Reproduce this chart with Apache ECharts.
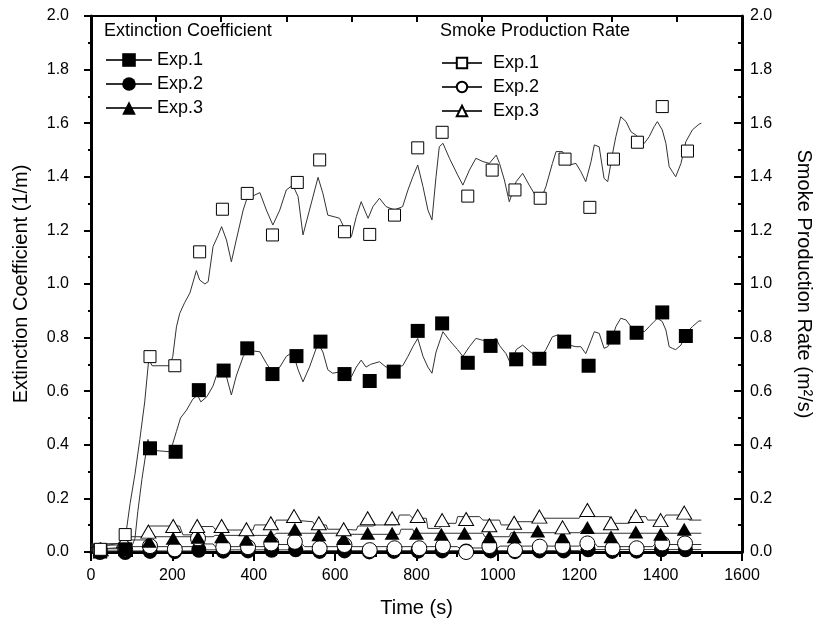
<!DOCTYPE html>
<html>
<head>
<meta charset="utf-8">
<script src="https://cdn.jsdelivr.net/npm/echarts@6/dist/echarts.min.js"></script>
<style>
  html, body { margin: 0; padding: 0; background: #fff; }
  #chart { width: 822px; height: 632px; }
</style>
</head>
<body>
<div id="chart"></div>
<script>
// time (s) vs value
// smoke production rate, Exp.1 (m2/s) - continuous record
var spr1Line = [[0, 0.02], [20, 0.02], [40, 0.025], [60, 0.03], [80, 0.035], [86, 0.07], [96, 0.18], [108, 0.29], [120, 0.42], [132, 0.56], [142, 0.72], [150, 0.695], [194, 0.695], [201, 0.73], [210, 0.84], [218, 0.89], [230, 0.93], [243, 0.966], [259, 1.05], [267, 1.015], [280, 1.0], [288, 1.009], [300, 1.14], [312, 1.18], [321, 1.214], [333, 1.164], [345, 1.083], [357, 1.164], [374, 1.276], [382, 1.313], [400, 1.33], [415, 1.341], [431, 1.276], [447, 1.22], [464, 1.276], [480, 1.351], [496, 1.369], [509, 1.326], [521, 1.183], [537, 1.276], [558, 1.398], [570, 1.338], [582, 1.257], [600, 1.25], [611, 1.245], [627, 1.195], [640, 1.177], [652, 1.251], [664, 1.307], [681, 1.245], [693, 1.289], [709, 1.32], [725, 1.289], [746, 1.276], [766, 1.289], [779, 1.351], [791, 1.40], [803, 1.444], [816, 1.363], [828, 1.276], [838, 1.239], [848, 1.40], [856, 1.512], [865, 1.525], [881, 1.469], [901, 1.407], [914, 1.369], [930, 1.425], [946, 1.469], [963, 1.457], [979, 1.45], [996, 1.481], [1004, 1.45], [1016, 1.388], [1028, 1.307], [1045, 1.382], [1061, 1.413], [1077, 1.369], [1094, 1.326], [1102, 1.301], [1118, 1.363], [1134, 1.45], [1143, 1.494], [1159, 1.494], [1175, 1.444], [1192, 1.45], [1204, 1.419], [1216, 1.382], [1229, 1.457], [1237, 1.519], [1249, 1.512], [1261, 1.394], [1270, 1.382], [1282, 1.488], [1290, 1.55], [1302, 1.624], [1315, 1.606], [1327, 1.568], [1339, 1.556], [1360, 1.525], [1372, 1.55], [1384, 1.587], [1392, 1.606], [1404, 1.575], [1413, 1.525], [1421, 1.438], [1429, 1.419], [1437, 1.40], [1450, 1.45], [1462, 1.531], [1478, 1.575], [1494, 1.596], [1500, 1.60]]
// extinction coefficient, Exp.1 (1/m)
var ec1Line = [[0, 0.01], [60, 0.015], [100, 0.02], [108, 0.05], [115, 0.15], [125, 0.27], [135, 0.37], [140, 0.42], [148, 0.38], [194, 0.374], [200, 0.40], [210, 0.45], [220, 0.50], [235, 0.53], [250, 0.57], [262, 0.585], [270, 0.56], [285, 0.58], [300, 0.62], [308, 0.657], [321, 0.68], [333, 0.654], [345, 0.586], [357, 0.657], [374, 0.729], [382, 0.746], [400, 0.75], [415, 0.747], [431, 0.704], [447, 0.667], [464, 0.69], [480, 0.73], [496, 0.746], [509, 0.68], [521, 0.635], [537, 0.69], [558, 0.779], [570, 0.746], [582, 0.68], [594, 0.667], [611, 0.672], [627, 0.68], [640, 0.654], [652, 0.69], [664, 0.716], [676, 0.69], [687, 0.70], [709, 0.71], [725, 0.69], [746, 0.69], [766, 0.695], [779, 0.73], [791, 0.766], [803, 0.797], [816, 0.73], [828, 0.69], [838, 0.667], [848, 0.746], [865, 0.822], [881, 0.79], [901, 0.755], [914, 0.73], [930, 0.766], [946, 0.797], [963, 0.79], [979, 0.785], [996, 0.797], [1004, 0.77], [1020, 0.74], [1032, 0.70], [1045, 0.755], [1061, 0.772], [1077, 0.75], [1094, 0.73], [1102, 0.72], [1118, 0.755], [1134, 0.803], [1147, 0.81], [1163, 0.803], [1175, 0.772], [1192, 0.766], [1204, 0.766], [1216, 0.74], [1229, 0.79], [1237, 0.822], [1249, 0.816], [1261, 0.76], [1270, 0.766], [1282, 0.803], [1290, 0.841], [1302, 0.872], [1315, 0.866], [1327, 0.841], [1339, 0.835], [1360, 0.822], [1372, 0.841], [1384, 0.86], [1392, 0.872], [1404, 0.86], [1413, 0.828], [1421, 0.766], [1429, 0.76], [1437, 0.755], [1450, 0.772], [1462, 0.816], [1478, 0.841], [1494, 0.862], [1500, 0.862]]
// smoke production rate, Exp.3
var spr3Line = [[0, 0.03], [79, 0.032], [82, 0.057], [128, 0.057], [140, 0.097], [218, 0.097], [226, 0.064], [251, 0.064], [255, 0.095], [300, 0.095], [305, 0.085], [333, 0.085], [340, 0.082], [398, 0.082], [402, 0.101], [451, 0.101], [455, 0.119], [496, 0.119], [500, 0.113], [545, 0.113], [550, 0.101], [578, 0.101], [582, 0.085], [619, 0.085], [623, 0.082], [652, 0.082], [656, 0.097], [693, 0.097], [700, 0.101], [750, 0.101], [758, 0.138], [783, 0.138], [791, 0.126], [824, 0.126], [828, 0.088], [857, 0.088], [861, 0.107], [897, 0.107], [901, 0.132], [955, 0.132], [963, 0.119], [1004, 0.119], [1008, 0.101], [1028, 0.101], [1032, 0.113], [1086, 0.113], [1090, 0.126], [1200, 0.126], [1216, 0.165], [1233, 0.132], [1274, 0.132], [1282, 0.107], [1323, 0.107], [1327, 0.132], [1364, 0.132], [1368, 0.119], [1405, 0.119], [1413, 0.138], [1462, 0.138], [1470, 0.119], [1500, 0.119]]
// extinction coefficient, Exp.3
var ec3Line = [[0, 0.026], [79, 0.026], [84, 0.045], [140, 0.045], [145, 0.057], [300, 0.057], [305, 0.062], [450, 0.062], [455, 0.07], [620, 0.07], [625, 0.066], [758, 0.066], [762, 0.085], [791, 0.085], [795, 0.07], [963, 0.07], [968, 0.057], [1028, 0.057], [1032, 0.072], [1200, 0.072], [1216, 0.092], [1233, 0.07], [1500, 0.07]]
// smoke production rate, Exp.2
var spr2Line = [[0, 0.012], [90, 0.012], [95, 0.02], [250, 0.02], [255, 0.03], [300, 0.03], [305, 0.02], [440, 0.02], [445, 0.028], [520, 0.028], [525, 0.02], [900, 0.02], [905, 0.015], [1000, 0.015], [1005, 0.022], [1200, 0.022], [1205, 0.03], [1240, 0.03], [1245, 0.02], [1380, 0.02], [1385, 0.028], [1500, 0.028]]
// extinction coefficient, Exp.2
var ec2Line = [[0, 0.004], [250, 0.004], [255, 0.008], [520, 0.008], [525, 0.005], [1200, 0.005], [1205, 0.009], [1500, 0.009]]

// plotted symbols (every ~60 s)
var spr1Mark = [[23, 0.01], [84, 0.065], [145, 0.729], [206, 0.695], [267, 1.12], [323, 1.279], [384, 1.338], [446, 1.183], [507, 1.379], [562, 1.463], [623, 1.195], [685, 1.185], [746, 1.257], [803, 1.508], [863, 1.566], [926, 1.328], [986, 1.425], [1042, 1.351], [1104, 1.32], [1165, 1.466], [1226, 1.286], [1284, 1.466], [1343, 1.529], [1404, 1.662], [1466, 1.496]]
var ec1Mark = [[23, 0.005], [84, 0.01], [145, 0.387], [208, 0.374], [265, 0.604], [326, 0.677], [384, 0.76], [446, 0.664], [505, 0.731], [564, 0.785], [623, 0.664], [685, 0.638], [744, 0.673], [803, 0.825], [863, 0.853], [926, 0.706], [982, 0.769], [1045, 0.719], [1102, 0.721], [1163, 0.785], [1223, 0.695], [1284, 0.80], [1341, 0.818], [1404, 0.894], [1462, 0.806]]
var spr3Mark = [[24, 0.01], [81, 0.04], [141, 0.076], [202, 0.097], [261, 0.097], [321, 0.097], [382, 0.085], [442, 0.107], [499, 0.134], [560, 0.107], [621, 0.085], [680, 0.126], [740, 0.126], [803, 0.134], [863, 0.119], [922, 0.123], [979, 0.10], [1040, 0.109], [1102, 0.132], [1159, 0.092], [1220, 0.157], [1278, 0.107], [1339, 0.134], [1400, 0.119], [1458, 0.147]]
var ec3Mark = [[22, 0.0], [83, 0.02], [143, 0.04], [202, 0.051], [263, 0.055], [321, 0.057], [382, 0.048], [442, 0.06], [501, 0.085], [560, 0.064], [621, 0.05], [680, 0.07], [740, 0.07], [800, 0.07], [861, 0.066], [918, 0.07], [979, 0.057], [1040, 0.057], [1098, 0.078], [1159, 0.057], [1220, 0.091], [1278, 0.057], [1339, 0.075], [1400, 0.066], [1458, 0.085]]
var spr2Mark = [[22, 0.005], [84, 0.01], [145, 0.022], [206, 0.01], [263, 0.051], [325, 0.018], [386, 0.018], [443, 0.032], [501, 0.038], [562, 0.014], [623, 0.026], [685, 0.007], [746, 0.014], [807, 0.014], [865, 0.022], [922, 0.0], [979, 0.022], [1042, 0.007], [1103, 0.02], [1159, 0.022], [1220, 0.032], [1282, 0.014], [1341, 0.014], [1404, 0.032], [1460, 0.032]]
var ec2Mark = [[22, 0.0], [84, 0.0], [145, 0.004], [206, 0.003], [265, 0.008], [325, 0.005], [386, 0.006], [444, 0.008], [503, 0.01], [562, 0.004], [623, 0.006], [684, 0.002], [744, 0.004], [804, 0.005], [863, 0.006], [922, 0.002], [982, 0.006], [1042, 0.003], [1102, 0.006], [1162, 0.006], [1222, 0.01], [1281, 0.004], [1341, 0.005], [1402, 0.01], [1461, 0.01]]

var FONT = 'Liberation Sans, Arial, sans-serif'
var INK = '#000'
var LINE = '#333'

var chart = echarts.init(document.getElementById('chart'))

// thin record line, symbol only used for the legend icon
function recLine (name, data, yIdx, symbol, size, filled) {
  return {
    name: name,
    type: 'line',
    yAxisIndex: yIdx,
    data: data,
    showSymbol: false,
    symbol: symbol,
    symbolSize: size,
    lineStyle: { color: LINE, width: 1 },
    itemStyle: filled ? { color: INK } : { color: '#fff', borderColor: INK, borderWidth: 1 },
    emphasis: { disabled: true },
    z: 2
  }
}

function marks (data, yIdx, symbol, size, filled, z) {
  return {
    type: 'scatter',
    yAxisIndex: yIdx,
    data: data,
    symbol: symbol,
    symbolSize: size,
    itemStyle: filled ? { color: INK, opacity: 1 } : { color: '#fff', borderColor: INK, borderWidth: 1, opacity: 1 },
    emphasis: { disabled: true },
    z: z
  }
}

var yAxisBase = {
  type: 'value',
  min: 0,
  max: 2,
  interval: 0.2,
  splitLine: { show: false },
  nameLocation: 'middle',
  nameTextStyle: { fontFamily: FONT, fontSize: 20, color: INK },
  axisLabel: { fontFamily: FONT, fontSize: 16, color: INK, formatter: function (v) { return v.toFixed(1) } },
  minorTick: { show: true, splitNumber: 2, length: 3, lineStyle: { color: INK, width: 2 } },
  minorSplitLine: { show: false }
}

var option = {
  animation: false,
  backgroundColor: '#fff',
  grid: { left: 91, right: 79, top: 16, bottom: 80 },
  graphic: [
    { type: 'text', left: 104, top: 22, style: { text: 'Extinction Coefficient', font: '18px ' + FONT, fill: INK } },
    { type: 'text', left: 440, top: 22, style: { text: 'Smoke Production Rate', font: '18px ' + FONT, fill: INK } }
  ],
  legend: [
    {
      data: ['EC Exp.1', 'EC Exp.2', 'EC Exp.3'],
      orient: 'vertical',
      left: 100,
      top: 46,
      itemWidth: 46,
      itemHeight: 17,
      itemGap: 6,
      selectedMode: false,
      formatter: function (n) { return n.split(' ')[1] },
      textStyle: { fontFamily: FONT, fontSize: 18, color: INK, lineHeight: 17 }
    },
    {
      data: ['SPR Exp.1', 'SPR Exp.2', 'SPR Exp.3'],
      orient: 'vertical',
      left: 436,
      top: 49,
      itemWidth: 40,
      itemHeight: 13,
      itemGap: 6,
      selectedMode: false,
      formatter: function (n) { return n.split(' ')[1] },
      textStyle: { fontFamily: FONT, fontSize: 18, color: INK, lineHeight: 17, padding: [0, 0, 0, 6] }
    }
  ],
  xAxis: [
    {
      type: 'value',
      position: 'bottom',
      min: 0,
      max: 1600,
      interval: 200,
      name: 'Time (s)',
      nameLocation: 'middle',
      nameGap: 46,
      nameTextStyle: { fontFamily: FONT, fontSize: 20, color: INK },
      splitLine: { show: false },
      axisLine: { onZero: false, lineStyle: { color: INK, width: 3 } },
      axisTick: { inside: false, length: 9, lineStyle: { color: INK, width: 2 } },
      minorTick: { show: true, splitNumber: 2, length: 5, lineStyle: { color: INK, width: 2 } },
      axisLabel: { fontFamily: FONT, fontSize: 16, color: INK, margin: 16, formatter: function (v) { return String(v) } }
    },
    {
      // top frame, ticks every 160 s, no labels
      type: 'value',
      position: 'top',
      min: 0,
      max: 1600,
      interval: 160,
      splitLine: { show: false },
      axisLine: { onZero: false, lineStyle: { color: INK, width: 2 } },
      axisTick: { inside: true, length: 6, lineStyle: { color: INK, width: 2 } },
      axisLabel: { show: false }
    }
  ],
  yAxis: [
    Object.assign({}, yAxisBase, {
      position: 'left',
      name: 'Extinction Coefficient (1/m)',
      nameGap: 60,
      axisLine: { onZero: false, lineStyle: { color: INK, width: 3 } },
      axisTick: { inside: false, length: 7, lineStyle: { color: INK, width: 2 } },
      axisLabel: Object.assign({}, yAxisBase.axisLabel, { margin: 22 })
    }),
    Object.assign({}, yAxisBase, {
      position: 'right',
      name: 'Smoke Production Rate (m\u00B2/s)',
      nameGap: 52,
      nameRotate: -90,
      axisLine: { onZero: false, lineStyle: { color: INK, width: 3 } },
      axisTick: { inside: true, length: 8, lineStyle: { color: INK, width: 2 } },
      minorTick: { show: true, splitNumber: 2, length: 4, lineStyle: { color: INK, width: 2 } },
      axisLabel: Object.assign({}, yAxisBase.axisLabel, { margin: 8 })
    })
  ],
  series: [
    recLine('EC Exp.1', ec1Line, 0, 'rect', 14, true),
    recLine('EC Exp.2', ec2Line, 0, 'circle', 14, true),
    recLine('EC Exp.3', ec3Line, 0, 'triangle', 14, true),
    recLine('SPR Exp.1', spr1Line, 1, 'rect', 10, false),
    recLine('SPR Exp.2', spr2Line, 1, 'circle', 10, false),
    recLine('SPR Exp.3', spr3Line, 1, 'triangle', 10, false),
    marks(ec2Mark, 0, 'circle', [15, 16], true, 3),
    marks(spr2Mark, 1, 'circle', [15, 15], false, 4),
    marks(ec3Mark, 0, 'triangle', [15, 13], true, 5),
    marks(spr3Mark, 1, 'triangle', [15, 13], false, 6),
    marks(ec1Mark, 0, 'rect', 14, true, 7),
    marks(spr1Mark, 1, 'rect', 12, false, 8)
  ]
}

chart.setOption(option)
</script>
</body>
</html>
